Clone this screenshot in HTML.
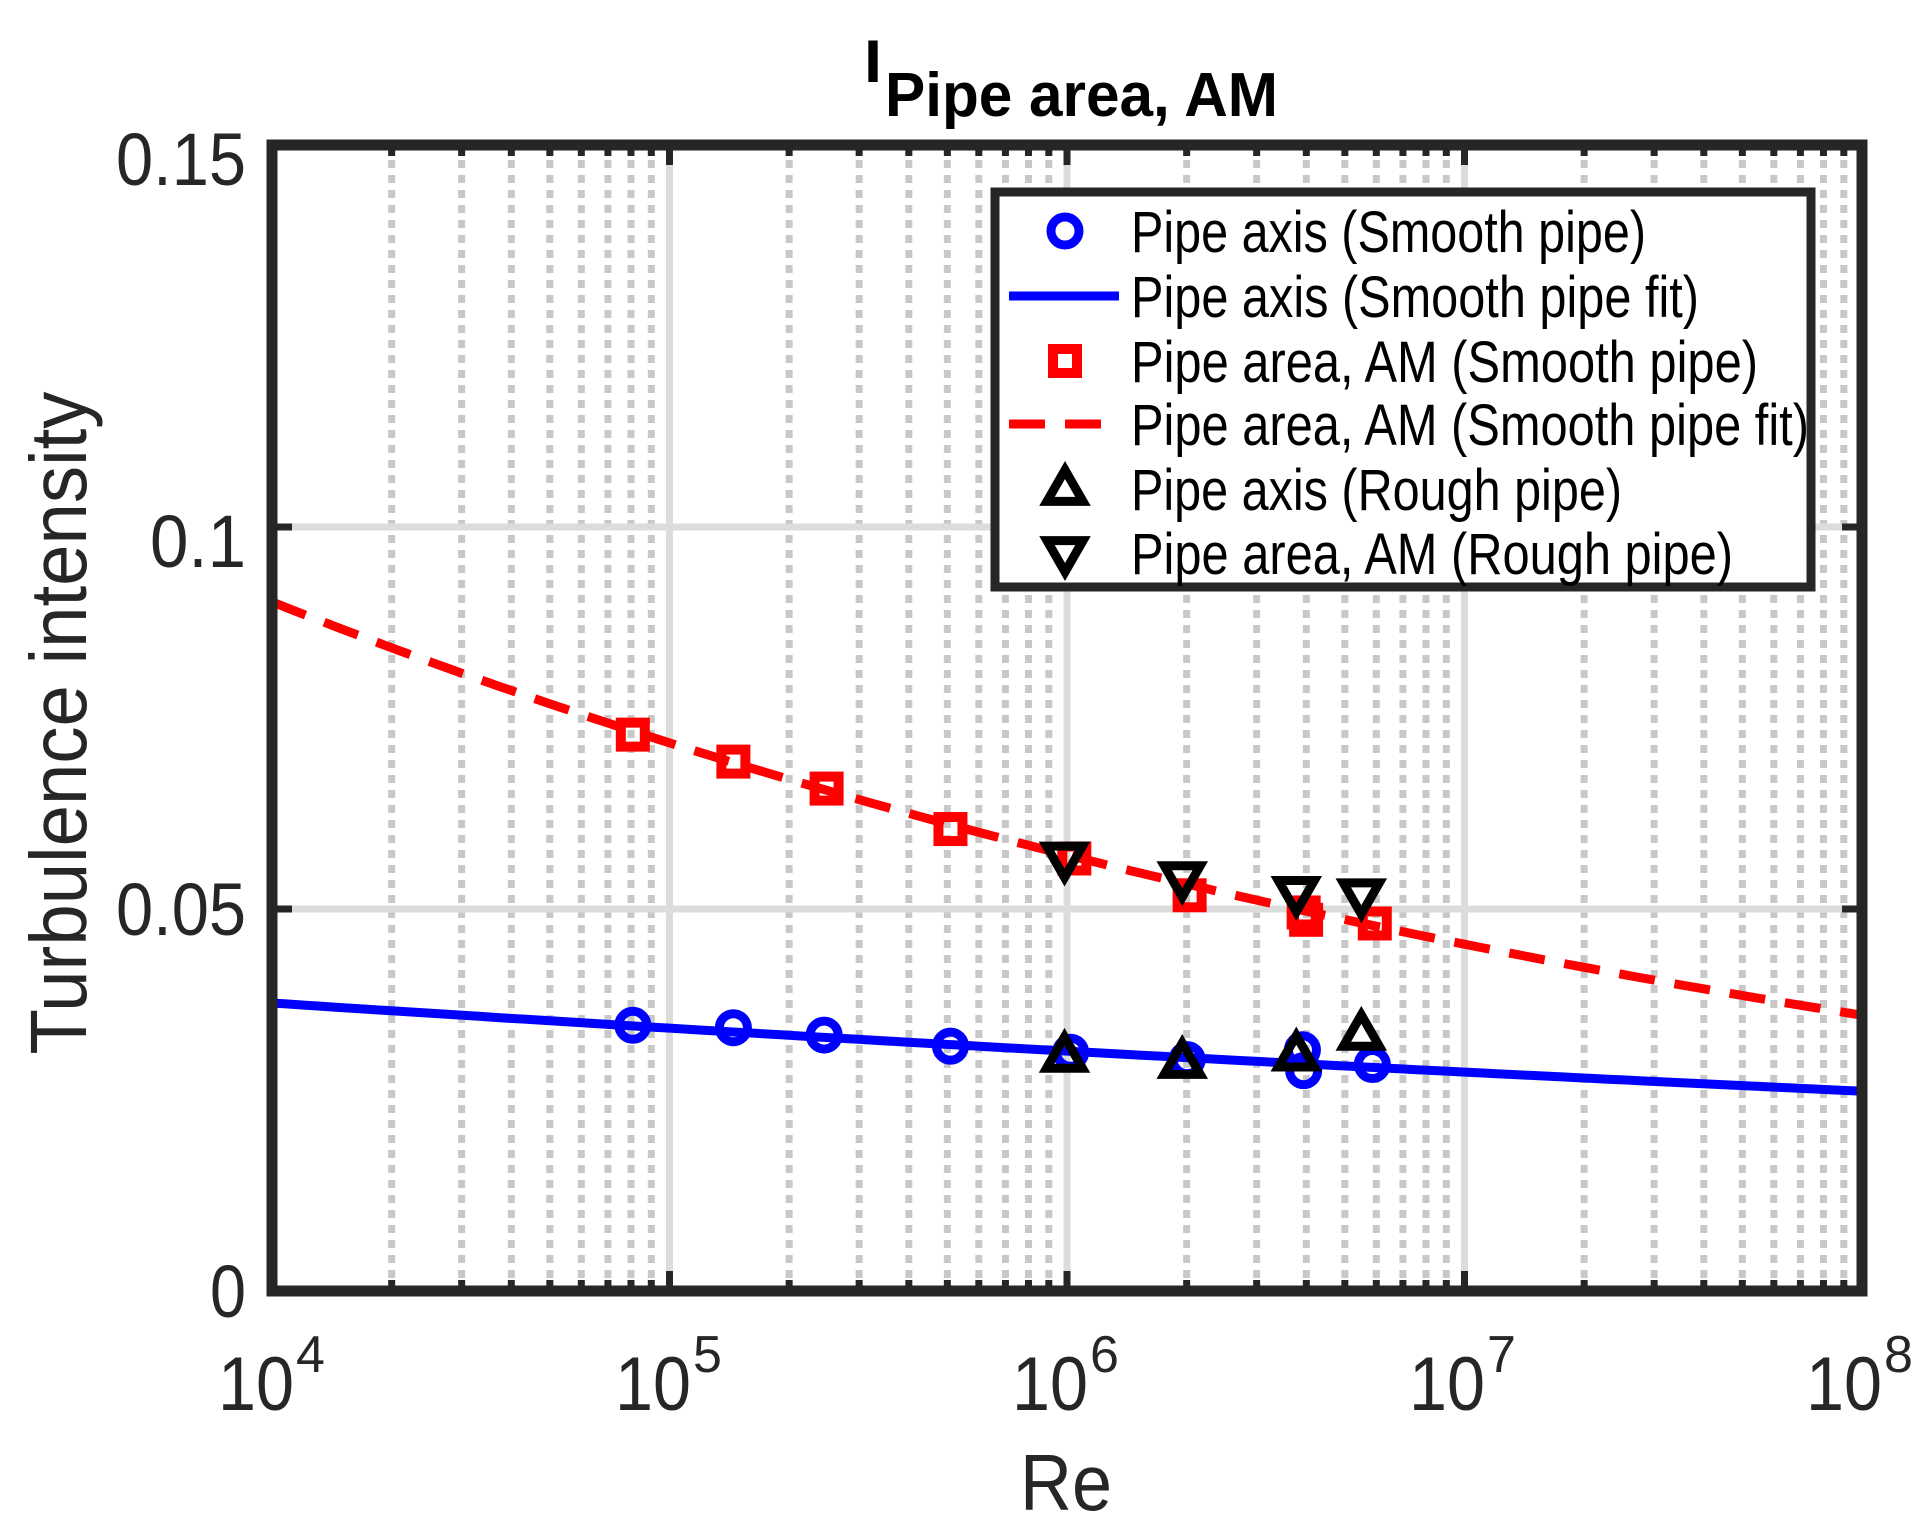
<!DOCTYPE html>
<html><head><meta charset="utf-8"><style>html,body{margin:0;padding:0;background:#fff}svg{display:block}</style></head>
<body>
<svg id="s" xmlns="http://www.w3.org/2000/svg" width="1923" height="1533" viewBox="0 0 1923 1533" font-family="Liberation Sans, sans-serif">
<rect width="1923" height="1533" fill="#fff"/>
<g id="grid"></g>
<g id="data"></g>
<g id="axes"></g>
<g fill="#262626" font-size="74">
<text x="246" y="185" text-anchor="end" textLength="130" lengthAdjust="spacingAndGlyphs">0.15</text>
<text x="246" y="567" text-anchor="end" textLength="96" lengthAdjust="spacingAndGlyphs">0.1</text>
<text x="246" y="935" text-anchor="end" textLength="130" lengthAdjust="spacingAndGlyphs">0.05</text>
<text x="246" y="1317" text-anchor="end" textLength="36" lengthAdjust="spacingAndGlyphs">0</text>
<g font-size="76">
<text x="218" y="1410" textLength="76" lengthAdjust="spacingAndGlyphs">10</text><text x="296" y="1372" font-size="52">4</text>
<text x="615" y="1410" textLength="76" lengthAdjust="spacingAndGlyphs">10</text><text x="693" y="1372" font-size="52">5</text>
<text x="1012" y="1410" textLength="76" lengthAdjust="spacingAndGlyphs">10</text><text x="1090" y="1372" font-size="52">6</text>
<text x="1409" y="1410" textLength="76" lengthAdjust="spacingAndGlyphs">10</text><text x="1487" y="1372" font-size="52">7</text>
<text x="1806" y="1410" textLength="76" lengthAdjust="spacingAndGlyphs">10</text><text x="1884" y="1372" font-size="52">8</text>
</g>
<text x="1020" y="1510" font-size="80" textLength="92" lengthAdjust="spacingAndGlyphs">Re</text>
<text transform="translate(86,723) rotate(-90)" text-anchor="middle" font-size="80" textLength="663" lengthAdjust="spacingAndGlyphs">Turbulence intensity</text>
<text x="864" y="82" font-size="60" font-weight="bold" fill="#000" textLength="18" lengthAdjust="spacingAndGlyphs">I</text>
<text x="885" y="116" font-size="62" font-weight="bold" textLength="393" lengthAdjust="spacingAndGlyphs" fill="#000">Pipe area, AM</text>
</g>
<g id="legend"></g>
</svg>
<script>
var NS="http://www.w3.org/2000/svg";
function el(p,t,a){var e=document.createElementNS(NS,t);for(var k in a)e.setAttribute(k,a[k]);document.getElementById(p).appendChild(e);return e;}
var L=272,R=1862,T=145,B=1291;
function X(re){return L+(Math.log10(re)-4)*(R-L)/4;}
function Y(v){return B-v/0.15*(B-T);}
for(var d=4;d<8;d++)for(var m=2;m<10;m++){var x=X(m*Math.pow(10,d));
 el("grid","line",{x1:x,y1:T,x2:x,y2:B,stroke:"#c8c8c8","stroke-width":7,"stroke-dasharray":"8,7"});}
for(var d=5;d<8;d++){var x=X(Math.pow(10,d));el("grid","line",{x1:x,y1:T,x2:x,y2:B,stroke:"#dcdcdc","stroke-width":7});}
[0.05,0.1].forEach(function(v){el("grid","line",{x1:L,y1:Y(v),x2:R,y2:Y(v),stroke:"#dcdcdc","stroke-width":7});});
el("axes","rect",{x:L,y:T,width:R-L,height:B-T,fill:"none",stroke:"#262626","stroke-width":11});
for(var d=4;d<8;d++)for(var m=1;m<10;m++){var x=X(m*Math.pow(10,d));var h=(m==1)?20:11;
 el("axes","line",{x1:x,y1:B,x2:x,y2:B-h,stroke:"#262626","stroke-width":7});
 el("axes","line",{x1:x,y1:T,x2:x,y2:T+h,stroke:"#262626","stroke-width":7});}
[0.05,0.1].forEach(function(v){var y=Y(v);
 el("axes","line",{x1:L,y1:y,x2:L+20,y2:y,stroke:"#262626","stroke-width":7});
 el("axes","line",{x1:R,y1:y,x2:R-20,y2:y,stroke:"#262626","stroke-width":7});});
function fit(y0,y1){var b=Math.log(y1/y0)/Math.log(1e4);var p=[];for(var i=0;i<=100;i++){var lr=4+4*i/100;var v=y0*Math.pow(10,(lr-4)*b);p.push(X(Math.pow(10,lr)).toFixed(1)+","+Y(v).toFixed(1));}return p.join(" ");}
el("data","polyline",{points:fit(0.0377,0.02615),fill:"none",stroke:"#0000ff","stroke-width":9});
el("data","polyline",{points:fit(0.0902,0.0361),fill:"none",stroke:"#ff0000","stroke-width":9,"stroke-dasharray":"36,20"});
var s=1.2264;
function P(a){return [a[0]*s,a[1]*s];}
var circ=[[516,836],[598,838],[672,844],[775,853],[873,858],[968,864],[1062,856],[1063,873],[1119,868]];
var sq=[[516,599],[598,621],[674,643],[775,676],[876,700],[970,730],[1063,744],[1065,750],[1121,753]];
var up=[[868,861],[964,866],[1057,860],[1110,843]];
var dn=[[868,700],[964,716],[1057,728],[1110,730]];
function circle(g,x,y){el(g,"circle",{cx:x,cy:y,r:14,fill:"none",stroke:"#0000ff","stroke-width":9});}
function square(g,x,y){el(g,"rect",{x:x-12,y:y-12,width:24,height:24,fill:"none",stroke:"#ff0000","stroke-width":10});}
function tri(g,x,y,dir){var h=19;var pts=dir>0?[[x,y-h],[x+18,y+h*0.65],[x-18,y+h*0.65]]:[[x,y+h],[x+18,y-h*0.65],[x-18,y-h*0.65]];
 el(g,"polygon",{points:pts.map(function(p){return p.join(",")}).join(" "),fill:"none",stroke:"#000","stroke-width":9,"stroke-linejoin":"miter"});}
circ.forEach(function(a){var p=P(a);circle("data",p[0],p[1]);});
sq.forEach(function(a){var p=P(a);square("data",p[0],p[1]);});
up.forEach(function(a){var p=P(a);tri("data",p[0],p[1],1);});
dn.forEach(function(a){var p=P(a);tri("data",p[0],p[1],-1);});
el("legend","rect",{x:995,y:192,width:816,height:395,fill:"#fff",stroke:"#262626","stroke-width":9});
var rows=[231,296,361,424,489,553];
var labels=["Pipe axis (Smooth pipe)","Pipe axis (Smooth pipe fit)","Pipe area, AM (Smooth pipe)","Pipe area, AM (Smooth pipe fit)","Pipe axis (Rough pipe)","Pipe area, AM (Rough pipe)"];
var widths=[515,568,627,678,491,602];
circle("legend",1065,rows[0]);
el("legend","line",{x1:1009,y1:rows[1],x2:1119,y2:rows[1],stroke:"#0000ff","stroke-width":9});
square("legend",1065,rows[2]);
el("legend","line",{x1:1009,y1:rows[3],x2:1119,y2:rows[3],stroke:"#ff0000","stroke-width":9,"stroke-dasharray":"36,20"});
tri("legend",1065,rows[4],1);
tri("legend",1065,rows[5],-1);
rows.forEach(function(y,i){var t=el("legend","text",{x:1131,y:y+21,"font-size":58,fill:"#000",textLength:widths[i],lengthAdjust:"spacingAndGlyphs"});t.textContent=labels[i];});
</script>
</body></html>
